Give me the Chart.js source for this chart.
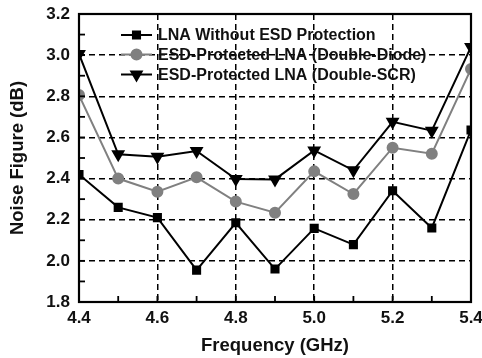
<!DOCTYPE html>
<html>
<head>
<meta charset="utf-8">
<script src="https://cdn.jsdelivr.net/npm/chart.js@4"></script>
<style>
  html, body { margin: 0; padding: 0; background: #fff; }
  #wrap { width: 482px; height: 358px; }
</style>
</head>
<body>
<div id="wrap"><canvas id="myChart" width="482" height="358"></canvas></div>
<script>
const freqs = [4.4, 4.5, 4.6, 4.7, 4.8, 4.9, 5.0, 5.1, 5.2, 5.3, 5.4];
const noEsd = [2.42, 2.26, 2.21, 1.955, 2.185, 1.96, 2.158, 2.079, 2.341, 2.16, 2.636];
const doubleDiode = [2.806, 2.40, 2.336, 2.406, 2.288, 2.234, 2.435, 2.325, 2.55, 2.521, 2.933];
const doubleScr = [3.006, 2.518, 2.506, 2.534, 2.398, 2.396, 2.537, 2.44, 2.676, 2.633, 3.04];
const seriesNames = [
  'LNA Without ESD Protection',
  'ESD-Protected LNA (Double-Diode)',
  'ESD-Protected LNA (Double-SCR)'
];

const FONT = "'Liberation Sans', Arial, sans-serif";
const GRAY = '#808080';

const toPts = (ys) => ys.map((y, i) => ({ x: freqs[i], y: y }));
const isMajor = (v) => Math.round(v * 10) % 2 === 0;

// frame + inward minor ticks
const framePlugin = {
  id: 'frame',
  afterDraw(chart) {
    const { ctx, chartArea: a, scales } = chart;
    ctx.save();
    ctx.strokeStyle = '#000';
    ctx.lineWidth = 1.8;
    scales.x.ticks.forEach(t => {
      const px = scales.x.getPixelForValue(t.value);
      ctx.beginPath();
      ctx.moveTo(px, a.bottom);
      ctx.lineTo(px, a.bottom - 6);
      ctx.stroke();
    });
    scales.y.ticks.forEach(t => {
      const py = scales.y.getPixelForValue(t.value);
      ctx.beginPath();
      ctx.moveTo(a.left, py);
      ctx.lineTo(a.left + 6, py);
      ctx.stroke();
    });
    ctx.lineWidth = 2.2;
    ctx.strokeRect(a.left, a.top, a.right - a.left, a.bottom - a.top);
    ctx.restore();
  }
};

// legend drawn inside the plot area
const insideLegend = {
  id: 'insideLegend',
  afterDatasetsDraw(chart) {
    const { ctx } = chart;
    const rows = [35, 54.5, 74.5];
    ctx.save();
    chart.data.datasets.forEach((ds, i) => {
      const y = rows[i];
      ctx.strokeStyle = ds.borderColor;
      ctx.fillStyle = ds.pointBackgroundColor;
      ctx.lineWidth = 2;
      ctx.beginPath();
      ctx.moveTo(121, y);
      ctx.lineTo(152, y);
      ctx.stroke();
      Chart.helpers.drawPoint(ctx, {
        pointStyle: ds.pointStyle,
        radius: ds.pointRadius,
        rotation: ds.pointRotation || 0,
        borderWidth: 1
      }, 136.5, y);
      ctx.fillStyle = '#111';
      ctx.font = 'bold 16px ' + FONT;
      ctx.textAlign = 'left';
      ctx.textBaseline = 'middle';
      ctx.fillText(ds.label, 158, y + 1);
    });
    ctx.restore();
  }
};

const ctx = document.getElementById('myChart');

new Chart(ctx, {
  type: 'line',
  data: {
    datasets: [
      {
        label: seriesNames[0],
        data: toPts(noEsd),
        borderColor: '#000',
        backgroundColor: '#000',
        pointBackgroundColor: '#000',
        pointBorderColor: '#000',
        pointStyle: 'rect',
        pointRadius: 5,
        borderWidth: 2
      },
      {
        label: seriesNames[1],
        data: toPts(doubleDiode),
        borderColor: GRAY,
        backgroundColor: GRAY,
        pointBackgroundColor: GRAY,
        pointBorderColor: GRAY,
        pointStyle: 'circle',
        pointRadius: 5,
        borderWidth: 2
      },
      {
        label: seriesNames[2],
        data: toPts(doubleScr),
        borderColor: '#000',
        backgroundColor: '#000',
        pointBackgroundColor: '#000',
        pointBorderColor: '#000',
        pointStyle: 'triangle',
        pointRotation: 180,
        pointRadius: 6,
        borderWidth: 2
      }
    ]
  },
  options: {
    responsive: false,
    animation: false,
    layout: { padding: { top: 14, right: 11, left: 0, bottom: 0 } },
    plugins: {
      legend: { display: false },
      tooltip: { enabled: false }
    },
    scales: {
      x: {
        type: 'linear',
        min: 4.4,
        max: 5.4,
        afterFit: (s) => { s.height = 56; s.paddingLeft = 0; s.paddingRight = 0; },
        ticks: {
          stepSize: 0.1,
          color: '#111',
          padding: 6,
          maxRotation: 0,
          autoSkip: false,
          font: { family: FONT, size: 17, weight: 'bold' },
          callback: (v) => isMajor(v) ? Number(v).toFixed(1) : ''
        },
        grid: {
          drawTicks: false,
          lineWidth: 1.5,
          color: (c) => (c.tick && isMajor(c.tick.value)) ? '#000' : 'rgba(0,0,0,0)'
        },
        border: { display: false, dash: [6, 4] },
        title: {
          display: true,
          text: 'Frequency (GHz)',
          color: '#111',
          font: { family: FONT, size: 18.5, weight: 'bold' },
          padding: { top: 0, bottom: 1 }
        }
      },
      y: {
        min: 1.8,
        max: 3.2,
        afterFit: (s) => { s.width = 79; s.paddingTop = 0; s.paddingBottom = 0; },
        ticks: {
          stepSize: 0.1,
          color: '#111',
          padding: 9,
          autoSkip: false,
          font: { family: FONT, size: 17, weight: 'bold' },
          callback: (v) => isMajor(v) ? Number(v).toFixed(1) : ''
        },
        grid: {
          drawTicks: false,
          lineWidth: 1.5,
          color: (c) => (c.tick && isMajor(c.tick.value)) ? '#000' : 'rgba(0,0,0,0)'
        },
        border: { display: false, dash: [6, 4] },
        title: {
          display: true,
          text: 'Noise Figure (dB)',
          color: '#111',
          font: { family: FONT, size: 18.5, weight: 'bold' },
          padding: { top: 7, bottom: 0 }
        }
      }
    }
  },
  plugins: [framePlugin, insideLegend]
});
</script>
</body>
</html>
